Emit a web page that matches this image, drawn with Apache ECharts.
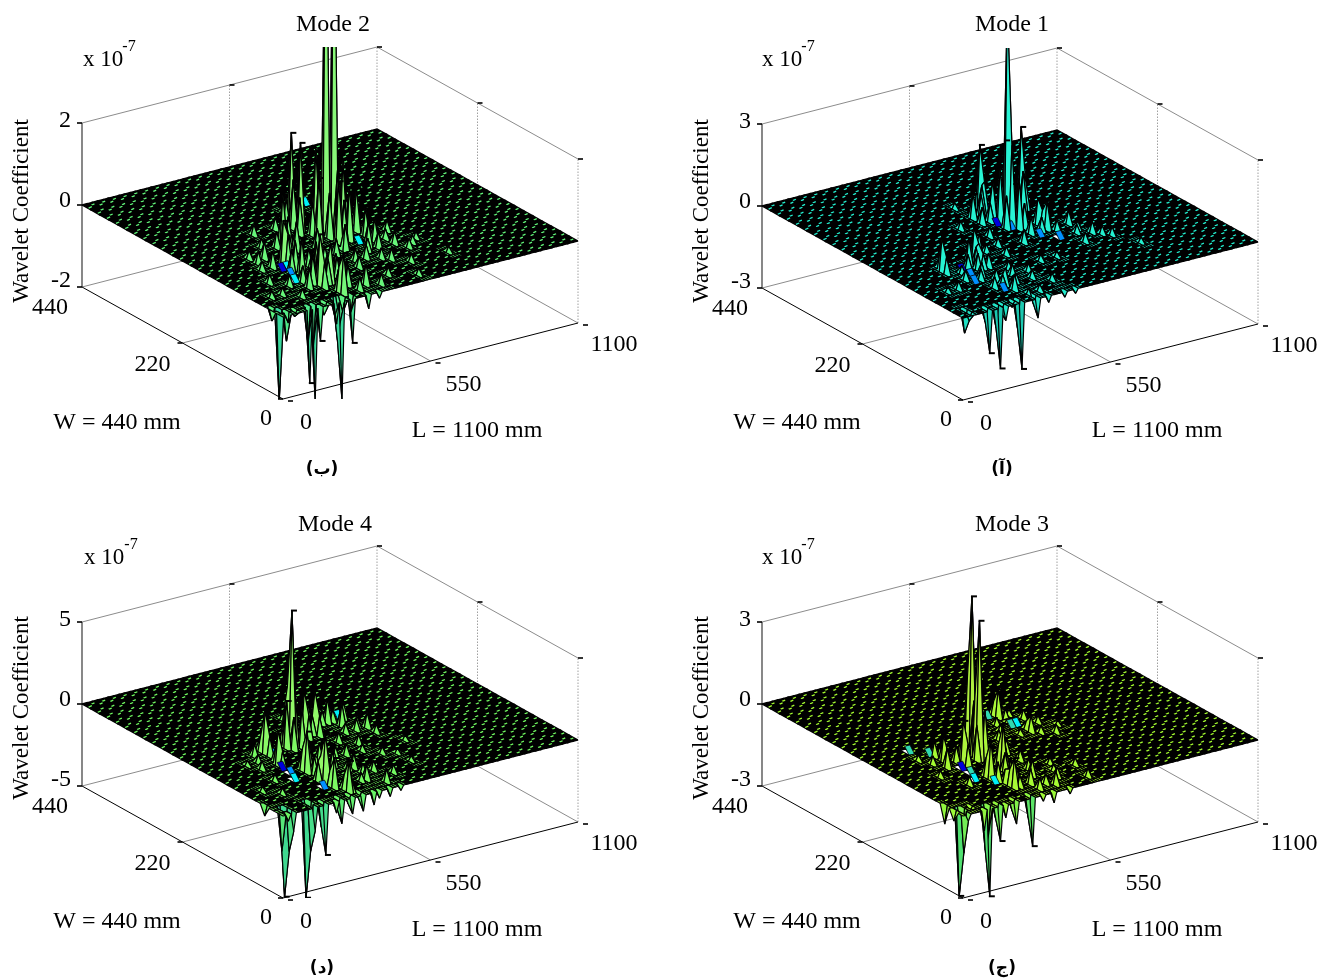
<!DOCTYPE html>
<html>
<head>
<meta charset="utf-8">
<style>html,body{margin:0;padding:0;background:#fff}#c{width:1320px;height:980px}</style>
<script src="https://cdn.jsdelivr.net/npm/echarts@6/dist/echarts.min.js"></script>
</head>
<body>
<div id="c"></div>
<script>
// ---- mesh ----
const peakStepMm = 20;
const lengthMm = 1100;
const widthMm = 440;

// ---- tick labels ----
const lTicks = [0, 550, 1100];
const wTicks = [0, 220, 440];
const mode2ZTicks = [-2, 0, 2];
const mode1ZTicks = [-3, 0, 3];
const mode4ZTicks = [-5, 0, 5];
const mode3ZTicks = [-3, 0, 3];
const modeNames = ['Mode 2', 'Mode 1', 'Mode 4', 'Mode 3'];
const captions = ['(ب)', '(آ)', '(د)', '(ج)'];

// ---- surface peaks: [L index, W index, coefficient x 1e-7] ----
const mode2Peaks = [
 [25,10,9],[26.5,10,9],[22,12,2.26],[22,11,2.14],[29,9,1.05],[29,8,0.68],[29,7,0.56],[17,10,1.18],
 [13,10,0.24],[10,7,0.4],[8,7,0.22],[12,3,1.24],[14,3,0.94],[13,1,0.98],[10,3,0.49],[22,9,1.53],
 [24,8,1.51],[25,8,1.0],[12,7,1.07],[12,5,0.9],[14,2,0.6],[27,4,0.27],
 [1,1,-2.2],[6,0,-2.25],[5,0,-1.78],[11,0,-2.4],[13,0,-1.07],[7,0,-0.82],[10,0,-0.51],[1,0,-0.18],[16,0,-0.34],[18,0,-0.15],
 [15,6,0.42],[18,6,0.36],[20,8,0.5],[19,12,0.3],[24,14,0.24],[30,11,0.3],[33,8,0.26],[32,5,0.22],[24,5,0.34],[21,4,0.28],
 [17,3,0.36],[19,2,0.24],[23,2,0.2],[8,4,0.26],[6,5,0.22],[5,3,0.18],[9,9,0.2],[15,12,0.26],[26,6,0.3],[31,7,0.24],
 [16,1,0.3],[20,1,0.26],[35,6,0.16],[28,13,0.2],[7,2,0.2],[36,3,0.14],[27,1,0.16],[3,3,0.16],[19,5,-0.2],[23,7,-0.24],[16,8,-0.18]
];
const mode2Shoulders = [
 [25.5,9,1.6],[26.5,9,1.8],[24,10.5,2.0],[27.5,10.5,1.4],[25.5,11,1.2],[27,9.5,1.2],[26,8,1.3],[28,9.5,0.9],[24,9,1.1],
 [21.5,11.5,1.2],[22.5,11.5,1.3],[21,10.5,0.9],[23,11.5,0.7],[22.5,10,0.8],[21,12,0.7],
 [12.5,3.5,0.8],[13,4,0.9],[13.5,3,0.6],[11.5,3.5,0.7],[12,2.5,0.6],[13,1.5,0.6],[11,5.5,0.6],[12.5,6,0.7],[12,6.5,0.8],
 [10.5,4,0.4],[14,5,0.5],[15,4,0.5],[16,3.5,0.5],[15.5,2,0.5],[17.5,4.5,0.4],[18,1.5,0.5],[14,7.5,0.6],[16,9,0.6],[17,8.5,0.7],
 [18,10,0.6],[15,9.5,0.4],[9,8,0.3],[11,8.5,0.4],
 [30,8.5,0.5],[30,7.5,0.4],[31,6,0.3],[28,6,0.4],[27,6.5,0.6],[23,9.5,1.0],[23.5,7,0.6],[21,6.5,0.4],[22,5,0.3],[26,4.5,0.25],[29,3,0.2],[33.5,5.5,0.18],
 [1.5,0.5,-0.7],[0.5,1.5,-0.3],[5.5,0.5,-0.9],[6.5,0.5,-1],[11,0.5,-1],[11.5,0.5,-0.6],[10.5,0.5,-0.4],[13.5,0.5,-0.4],[12,0.5,-0.35],[3,0.5,-0.15],[8.5,0.5,-0.3]
];
const mode1Peaks = [
 [27,11,8],[33,13,2.9],[30,13,2.56],[27,14,2.36],[26,12,1.46],[30,12,1.15],[24,13,0.9],[31,10,0.95],[31,9,1.04],
 [8,7,1.2],[14,7,1.28],[15,7,1.0],[13,7,0.97],[14,6,0.52],[13,3,0.62],[13,2,0.58],[14,1,0.2],
 [2,1,-0.84],[5,0,-1.54],[7,0,-2.2],[11,0,-2.42],[8,0,-0.5],[14,0,-0.71],
 [28,9,0.6],[35,9,0.5],[36,7,0.42],[33,6,0.36],[25,8,0.5],[22,10,0.36],[20,12,0.3],[10,8,0.36],[12,5,0.5],[16,4,0.42],
 [9,5,0.36],[6,4,0.3],[18,3,0.3],[20,2,0.26],[11,3,0.4],[23,5,0.24],[38,6,0.3],[26,5,0.2],[29,15,0.24],[17,9,0.26],
 [4,4,0.2],[16,1,0.24],[19,0,-0.2],[21,0,-0.16],[16,0,-0.24],[40,4,0.2],[24,15,0.2]
];
const mode1Shoulders = [
 [27,10.5,3],[27.5,11,3.2],[26.5,11.5,2],[28,11,2],[27.5,10,1.8],[26,10.5,1.2],[29,11,1.6],[29,12,1.4],[32.5,12.5,1.4],[33,12.5,1.0],
 [30,12.5,1.2],[29.5,13,1.1],[26.5,13.5,1],[27,13.5,1.1],[25.5,13,.8],[25.5,12,.7],[24,12,.6],[31,9.5,.6],[31.5,10,.5],[30,9,.5],[32,8.5,.4],[28.5,10,.9],
 [14,6.5,.8],[14.5,7,.7],[13.5,6.5,.7],[13,6,.6],[15,6,.5],[12,6.5,.5],[8,6.5,.6],[8.5,7.5,.4],[13,4,.4],[13.5,2.5,.4],[12.5,3,.4],[11,4.5,.4],
 [15,3,.3],[17,5,.3],[19,4,.3],[10,6,.3],[18,8,.3],[20,7,.3],[21,8.5,.3],[35,8,.3],[37,6.5,.3],[34,7.5,.3],
 [7,.5,-.8],[5,.5,-.5],[11,.5,-1],[14,.5,-.3],[2,.5,-.3],[8,.5,-.3],[10,.5,-.2]
];
const mode4Peaks = [
 [17,9,8.3],[2,1,-5.4],[6,1,-5.8],[8,0,-3.05],[6,0,-1.42],[2,0,-1.1],[1,0,-0.4],[0,2,-0.62],[11,0,-1.4],[10,0,-0.67],
 [13,0,-0.97],[15,0,-0.97],[17,0,-0.76],[18,0,-0.43],
 [21,10,2.74],[23,10,2.57],[12,9,2.6],[11,7,2.09],[10,9,0.75],[13,3,2.97],[13,5,2.5],[16,9,2.87],[13,2,1.82],[14,1,1.87],
 [28,10,1.37],[27,11,1.5],[25,12,1.1],[30,11,1.0],[31,9,0.9],[18,6,1.2],[16,4,1.4],[20,4,0.9],[22,6,0.7],[19,2,0.9],
 [21,1,0.8],[24,2,0.5],[8,7,0.5],[7,5,0.4],[5,3,0.36],[26,7,0.6],[24,8,0.6],[19,11,0.6],[27,5,0.4],[22,13,0.36],[33,6,0.3],
 [20,0,-0.5],[22,0,-0.3],[29,3,0.3],[3,4,0.3]
];
const mode4Shoulders = [
 [17,9.5,3.5],[17.5,9,3.8],[16.5,9.5,2.4],[18,9.5,2],[18,8.5,2.4],[16.5,8.5,2],[21,9.5,1.4],[21.5,10,1.3],[23,9.5,1.2],[22.5,10,1.1],
 [12,8.5,1.2],[11.5,7.5,1],[11,6.5,1],[12,9.5,.9],[13,3.5,1.5],[13.5,3,1.3],[12.5,3.5,1.2],[13,5.5,1.3],[13.5,4.5,1.1],[14,4.5,1],
 [13,2.5,.9],[14,1.5,.9],[14.5,1,.7],[16,5,1],[15,6,1.4],[17,6,1.2],[18,5,.9],[20,6,.7],[19,4,.7],[20,3,.6],[18,2,.5],[22,3,.6],
 [26,11,.8],[28,11,.7],[29,12,.5],[27,9,.6],[29,9,.7],[31,8,.5],[30,9.5,.6],[24,11,.6],[9,8,.5],[7,8,.3],[25,6,.4],[29,4.5,.3],
 [2,.5,-2.5],[1.5,1,-2.6],[6,.5,-2.8],[6.5,1,-2.4],[8,.5,-1.5],[11,.5,-.7],[13,.5,-.5],[15,.5,-.4]
];
const mode3Peaks = [
 [17,9,5.5],[15,7,5.08],[27,12,1.03],[16,5,1.63],[28,9,0.57],[27,11,0.14],[10,9,0.56],[10,8,0.93],[9,7,0.73],[12,7,1.57],
 [12,4,1.39],[14,3,0.86],[13,2,1.09],
 [1,1,-3.16],[5,0,-3.19],[13,0,-1.76],[7,0,-1.27],[4,0,-0.75],[0,2,-0.67],[0,1,-0.37],[1,0,-0.24],[10,0,-0.8],[8,0,-0.47],
 [17,0,-0.38],[15,0,-0.22],[20,7,0.5],[22,9,0.36],[31,8,0.3],[30,11,0.34],[24,10,0.26],[18,3,0.6],[16,2,0.56],[19,1,0.5],
 [21,2,0.36],[8,4,0.3],[6,6,0.24],[7,9,0.2],[23,4,0.24],[26,3,0.26],[25,1,0.3],[20,0,-0.2],[3,1,-0.16],[33,9,0.16]
];
const mode3Shoulders = [
 [17,9.5,2.4],[17.5,9,2.5],[16.5,8.5,1.8],[18,9,1.8],[15.5,7.5,2.3],[15,7.5,2.2],[16,7,1.8],[14.5,7,1.3],[16,8,1.6],[16,5.5,.8],[16.5,5,.7],[15.5,4.5,.7],
 [12,6.5,.8],[12.5,7,.7],[11.5,7.5,.6],[12,4.5,.7],[12.5,3.5,.7],[13,3,.5],[13,2.5,.6],[14,2,.4],[15,3,.5],[10,7.5,.4],[8,8,.3],[11,9,.3],[13,8,.5],
 [18,6,.5],[20,5.5,.4],[19,4,.4],[21,8,.3],[25,11,.3],[27,12.5,.5],[27.5,11.5,.4],[28,9.5,.3],[29,8.5,.25],[31,10,.25],[29,12,.2],[26,9,.2],[16,1,.4],[18,1.5,.35],[22,3,.22],
 [1,.5,-1.5],[1.5,1,-1.4],[5,.5,-1.6],[5.5,.5,-1.2],[13,.5,-.8],[7,.5,-.6],[10,.5,-.4]
];

// ---- facets with a far-from-mid colour value: [L index, W index, level] ----
const mode2Accents = [[10,6,0],[11,6,2],[9,4,2],[10,5,1],[14,4,2],[13,3,2],[26,11,0],[27,11,2],[28,9,2],[26,7,2],[28,14,2]];
const mode1Accents = [[25,11,0],[26,10,1],[27,13,0],[10,6,0],[10,5,1],[9,4,1],[28,8,1],[30,7,1],[11,2,1]];
const mode4Accents = [[10,6,0],[10,5,1],[9,4,2],[11,2,1],[29,11,2],[14,4,1],[12,8,1]];
const mode3Accents = [[10,6,0],[10,5,3],[9,4,2],[11,3,2],[27,10,2],[26,10,3],[25,12,3],[9,9,3],[7,10,3]];

// ---- styling ----
const accentPalette = ['#0000dc', '#0090ff', '#00f0f8', '#30d8b0'];
const panels = [
 {z: mode2ZTicks, peaks: mode2Peaks, shoulders: mode2Shoulders, accents: mode2Accents, ox: 0, oy: 0, ramp: ['#38d89c', '#62f67a', '#88f878']},
 {z: mode1ZTicks, peaks: mode1Peaks, shoulders: mode1Shoulders, accents: mode1Accents, ox: 680, oy: 1, ramp: ['#1cc8b0', '#24f0d0', '#28f4d4']},
 {z: mode4ZTicks, peaks: mode4Peaks, shoulders: mode4Shoulders, accents: mode4Accents, ox: 0, oy: 499, ramp: ['#40d890', '#70f860', '#92f868']},
 {z: mode3ZTicks, peaks: mode3Peaks, shoulders: mode3Shoulders, accents: mode3Accents, ox: 680, oy: 499, ramp: ['#50e070', '#a4fc30', '#b0f040']}
];
const serif = '"Liberation Serif","Times New Roman",serif';
const fs = 24;

const meshStep = peakStepMm / 2;
const nL = lengthMm / meshStep, nW = widthMm / meshStep;

function project(L, W, zNorm) {
  return [201 + L / lengthMm * 295 - W / widthMm * 201,
          L / lengthMm * 76 + W / widthMm * 112 + (zNorm + 1) * 82];
}
function mix(a, b, t) {
  const p = s => [1, 3, 5].map(i => parseInt(s.substr(i, 2), 16));
  const A = p(a), B = p(b);
  return 'rgb(' + A.map((v, i) => Math.round(v + (B[i] - v) * t)).join(',') + ')';
}

const grids = [], xAxes = [], yAxes = [], series = [], titles = [], graphics = [];

panels.forEach((pn, idx) => {
  const zmax = pn.z[2];
  grids.push({left: pn.ox + 82, top: pn.oy + 47, width: 496, height: 352, show: false});
  xAxes.push({type: 'value', gridIndex: idx, min: 0, max: 496, show: false});
  yAxes.push({type: 'value', gridIndex: idx, min: 0, max: 352, show: false});

  const H = [];
  for (let i = 0; i <= nL; i++) { H.push(new Array(nW + 1).fill(0)); }
  pn.shoulders.forEach(p => { H[Math.round(p[0] * 2)][Math.round(p[1] * 2)] = p[2]; });
  pn.peaks.forEach(p => { H[Math.round(p[0] * 2)][Math.round(p[1] * 2)] = p[2]; });
  const accent = {};
  pn.accents.forEach(a => { accent[a[0] * 2 + '_' + a[1] * 2] = a[2]; });

  // far corner first, near corner last: [L idx, W idx, span, z00, z10, z11, z01, accent]
  const cells = [];
  const fine = (i, j) => [i, j, 1, H[i][j], H[i + 1][j], H[i + 1][j + 1], H[i][j + 1], -1];
  const tilt = zmax * 0.08;
  for (let i = nL - 2; i >= 0; i -= 2) for (let j = nW - 2; j >= 0; j -= 2) {
    let flat = true;
    for (let a = 0; a <= 2; a++) for (let b = 0; b <= 2; b++) if (H[i + a][j + b] !== 0) flat = false;
    const k = accent[i + '_' + j];
    if (flat && k === undefined) {
      cells.push([i, j, 2, 0, 0, 0, 0, -1]);
    } else if (flat) {
      cells.push([i, j, 2, 0, 0, tilt, tilt, k]);
    } else {
      cells.push(fine(i + 1, j + 1), fine(i + 1, j), fine(i, j + 1), fine(i, j));
      if (k !== undefined) cells.push([i, j, 2, 0, 0, tilt, tilt, k]);
    }
  }

  // box lines [L0,W0,z0,L1,W1,z1,kind] kind 0 = grey, 1 = dotted grey, 2 = black, 3 = z axis
  const mx = lengthMm, mw = widthMm, L2 = lTicks[1], W2 = wTicks[1];
  const boxLines = [
    [0,mw,1,mx,mw,1,0],[mx,mw,1,mx,0,1,0],
    [0,mw,-1,mx,mw,-1,0],[mx,mw,-1,mx,0,-1,0],
    [0,W2,-1,mx,W2,-1,0],[L2,0,-1,L2,mw,-1,0],
    [L2,mw,-1,L2,mw,1,1],[mx,W2,-1,mx,W2,1,1],[mx,mw,-1,mx,mw,1,1],[mx,0,-1,mx,0,1,1],
    [0,mw,-1,0,mw,1,3],
    [0,0,-1,0,mw,-1,2],[0,0,-1,mx,0,-1,2]
  ];
  series.push({
    type: 'custom', coordinateSystem: 'cartesian2d', xAxisIndex: idx, yAxisIndex: idx, silent: true, clip: false,
    animation: false, z: 1, data: boxLines,
    renderItem(params, api) {
      const a = api.coord(project(api.value(0), api.value(1), api.value(2)));
      const b = api.coord(project(api.value(3), api.value(4), api.value(5)));
      const kind = api.value(6);
      const style = {stroke: ['#8c8c8c', '#a0a0a0', '#000', '#555'][kind], lineWidth: kind === 3 ? 1.4 : 1, lineDash: kind === 1 ? [1.5, 1.5] : null};
      return {type: 'line', shape: {x1: a[0], y1: a[1], x2: b[0], y2: b[1]}, style};
    }
  });

  // tick marks [L, W, z, direction]
  const tickData = [];
  wTicks.forEach(w => tickData.push([0, w, -1, -1]));
  lTicks.forEach(l => tickData.push([l, 0, -1, 1]));
  tickData.push([0, widthMm, 0, -1], [0, widthMm, 1, -1], [L2, widthMm, 1, 1], [lengthMm, widthMm, 1, 1], [lengthMm, W2, 1, 1], [lengthMm, 0, 1, 1]);
  series.push({
    type: 'custom', coordinateSystem: 'cartesian2d', xAxisIndex: idx, yAxisIndex: idx, silent: true, clip: false,
    animation: false, z: 2, data: tickData,
    renderItem(params, api) {
      const a = api.coord(project(api.value(0), api.value(1), api.value(2)));
      const d = api.value(3);
      const lift = (api.value(2) < 0 && d > 0) ? 2 : 0;
      const start = lift ? 5 : 0;
      return {type: 'line', shape: {x1: a[0] + d * start, y1: a[1] + lift, x2: a[0] + d * (start + 5), y2: a[1] + lift}, style: {stroke: '#000', lineWidth: 1.6}};
    }
  });

  // surface facets
  series.push({
    type: 'custom', coordinateSystem: 'cartesian2d', xAxisIndex: idx, yAxisIndex: idx, silent: true, clip: true,
    animation: false, z: 3, progressive: 0, data: cells,
    renderItem(params, api) {
      const i = api.value(0), j = api.value(1), s = api.value(2);
      const zs = [api.value(3), api.value(4), api.value(5), api.value(6)];
      const k = api.value(7);
      const toPt = (a, b, z) => api.coord(project(a * meshStep, b * meshStep, z / zmax));
      if (k >= 0) {
        const pa = [toPt(i, j, zs[0]), toPt(i + s, j, zs[1]), toPt(i + s, j + s / 2, zs[2]), toPt(i, j + s / 2, zs[3])];
        return {type: 'polygon', shape: {points: pa}, style: {fill: accentPalette[k], stroke: '#000', lineWidth: 0.8}};
      }
      const pts = [toPt(i, j, zs[0]), toPt(i + s, j, zs[1]), toPt(i + s, j + s, zs[2]), toPt(i, j + s, zs[3])];
      if (s === 2) {
        const body = {type: 'polygon', shape: {points: pts}, style: {fill: '#000', stroke: '#000', lineWidth: 1.4}};
        const wob = (i / 2) % 2 === 0 ? 0.7 : 1.3;
        const d1 = toPt(i + 0.25, j + wob, 0), d2 = toPt(i + 1.45, j + wob, 0);
        return {type: 'group', children: [body,
          {type: 'line', shape: {x1: d1[0], y1: d1[1], x2: d2[0], y2: d2[1] - 0.6}, style: {stroke: pn.ramp[1], lineWidth: 1.3}}
        ]};
      }
      const mean = (zs[0] + zs[1] + zs[2] + zs[3]) / 4 / zmax;
      let fill;
      if (mean < 0) fill = mix(pn.ramp[1], pn.ramp[0], Math.min(1, -mean * 4));
      else fill = mix(pn.ramp[1], pn.ramp[2], Math.min(1, mean * 4));
      return {type: 'polygon', shape: {points: pts}, style: {fill, stroke: '#000', lineWidth: 1.2, lineJoin: 'bevel'}};
    }
  });

  // tip hooks on the tall spikes
  const threshold = zmax * 0.3;
  series.push({
    type: 'custom', coordinateSystem: 'cartesian2d', xAxisIndex: idx, yAxisIndex: idx, silent: true, clip: true,
    animation: false, z: 4, data: pn.peaks.filter(p => Math.abs(p[2]) > threshold),
    renderItem(params, api) {
      const a = api.coord(project(api.value(0) * peakStepMm, api.value(1) * peakStepMm, api.value(2) / zmax));
      return {type: 'line', shape: {x1: a[0] - 1, y1: a[1], x2: a[0] + 5, y2: a[1]}, style: {stroke: '#000', lineWidth: 2}};
    }
  });

  // tick labels
  const labelFont = fs + 'px ' + serif;
  const zLabels = pn.z.map(v => [0, widthMm, v / zmax, String(v)]);
  const zOff = [-6, -4, -2];
  series.push({
    type: 'custom', coordinateSystem: 'cartesian2d', xAxisIndex: idx, yAxisIndex: idx, silent: true, clip: false,
    animation: false, z: 5, data: zLabels,
    renderItem(params, api) {
      const a = api.coord(project(api.value(0), api.value(1), api.value(2)));
      return {type: 'text', x: a[0] - 11, y: a[1] + zOff[params.dataIndex], style: {text: zLabels[params.dataIndex][3], font: labelFont, fill: '#000', textAlign: 'right', textVerticalAlign: 'middle'}};
    }
  });
  const wOff = [[-17, 20], [-30, 22], [-32, 21]];
  series.push({
    type: 'custom', coordinateSystem: 'cartesian2d', xAxisIndex: idx, yAxisIndex: idx, silent: true, clip: false,
    animation: false, z: 5, data: wTicks.map(v => [0, v, -1]),
    renderItem(params, api) {
      const a = api.coord(project(api.value(0), api.value(1), api.value(2)));
      const o = wOff[params.dataIndex];
      return {type: 'text', x: a[0] + o[0], y: a[1] + o[1], style: {text: String(wTicks[params.dataIndex]), font: labelFont, fill: '#000', textAlign: 'center', textVerticalAlign: 'middle'}};
    }
  });
  const lOff = [[23, 24], [33, 24], [36, 22]];
  series.push({
    type: 'custom', coordinateSystem: 'cartesian2d', xAxisIndex: idx, yAxisIndex: idx, silent: true, clip: false,
    animation: false, z: 5, data: lTicks.map(v => [v, 0, -1]),
    renderItem(params, api) {
      const a = api.coord(project(api.value(0), api.value(1), api.value(2)));
      const o = lOff[params.dataIndex];
      return {type: 'text', x: a[0] + o[0], y: a[1] + o[1], style: {text: String(lTicks[params.dataIndex]), font: labelFont, fill: '#000', textAlign: 'center', textVerticalAlign: 'middle'}};
    }
  });

  // texts around the box
  const right = pn.ox > 0, low = pn.oy > 100;
  titles.push({
    text: modeNames[idx], left: (right ? 1007 : (low ? 330 : 328)), top: (low ? 508 : 8), textAlign: 'center',
    textStyle: {fontFamily: serif, fontSize: 24, fontWeight: 'normal', color: '#000'}
  });
  const tx = (text, x, y, extra) => graphics.push(Object.assign({type: 'text', x, y, silent: true,
    style: Object.assign({text, font: labelFont, fill: '#000', textAlign: 'center', textVerticalAlign: 'middle'}, extra && extra.style)}, extra && extra.el));
  tx('Wavelet Coefficient', pn.ox + 22, low ? 708 : 211, {el: {rotation: Math.PI / 2}, style: {font: '23px ' + serif}});
  tx('W = 440 mm', pn.ox + 117, low ? 922 : 423);
  tx('L = ' + lengthMm + ' mm', pn.ox + 477, low ? 930 : 431);
  tx('x 10', pn.ox + (right ? 102 : (low ? 104 : 103)), low ? 558 : 60, {style: {font: '23px ' + serif}});
  tx('-7', pn.ox + (right ? 128 : (low ? 131 : 129)), low ? 545 : 47, {style: {font: '16px ' + serif}});
  tx(captions[idx], right ? 1002 : 322, low ? 969 : 470, {style: {font: 'bold 17px "DejaVu Sans"'}});
});

const chart = echarts.init(document.getElementById('c'), null, {renderer: 'canvas'});
chart.setOption({
  animation: false, backgroundColor: '#fff',
  title: titles, grid: grids, xAxis: xAxes, yAxis: yAxes, series,
  graphic: {elements: graphics}
});
</script>
</body>
</html>
